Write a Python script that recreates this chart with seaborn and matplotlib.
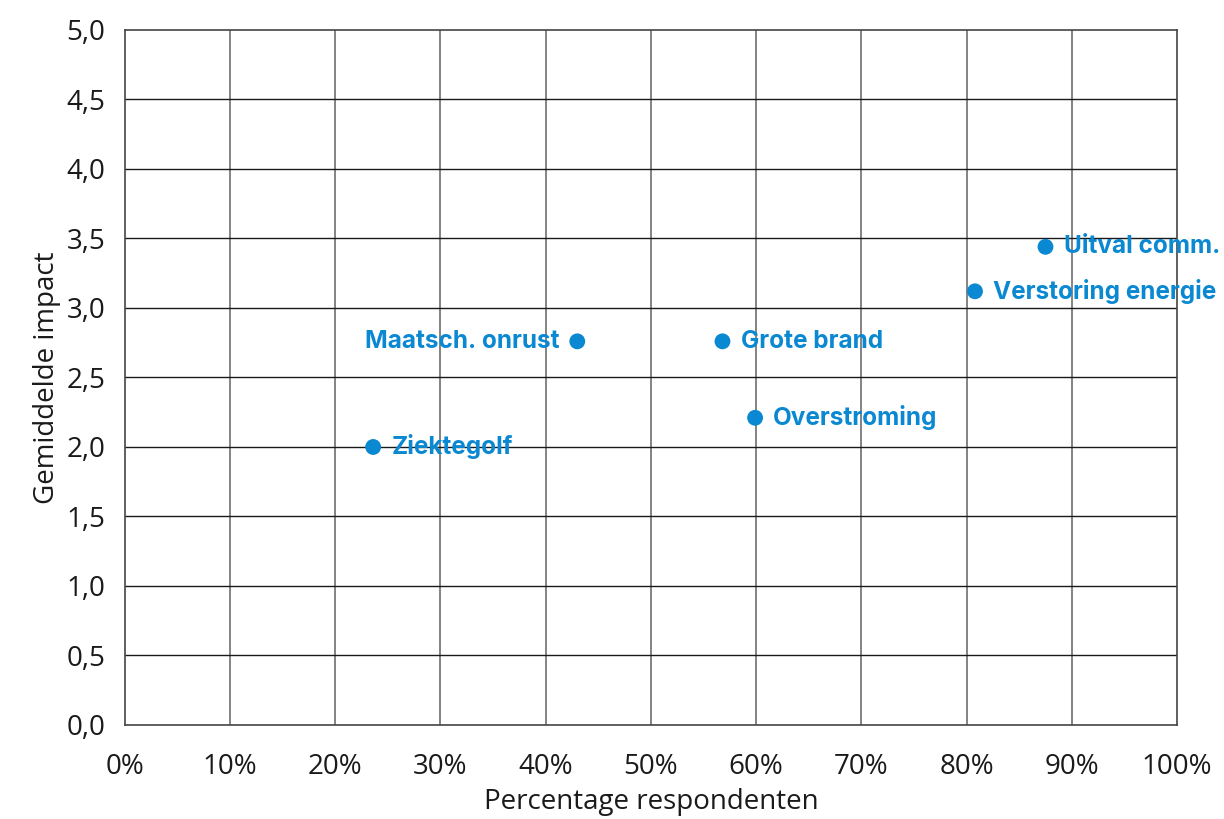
import numpy as np
import pandas as pd
import seaborn as sns
import matplotlib.pyplot as plt
from matplotlib.ticker import FuncFormatter, MultipleLocator

# data
labels = ["Ziektegolf", "Maatsch. onrust", "Grote brand", "Overstroming",
          "Verstoring energie", "Uitval comm."]
pct = [23.6, 43.0, 56.8, 59.9, 80.8, 87.5]
impact = [2.0, 2.76, 2.76, 2.21, 3.12, 3.44]
label_side = ["right", "left", "right", "right", "right", "right"]

blue = "#0a88d2"

sns.set_theme(style="white")
plt.rcParams['font.family'] = ['Open Sans', 'DejaVu Sans']

df = pd.DataFrame({"pct": pct, "impact": impact, "label": labels})

fig = plt.figure(figsize=(12.24, 8.19), dpi=100)
ax = fig.add_axes([0.102, 0.1148, 0.8596, 0.8486])

sns.scatterplot(data=df, x="pct", y="impact", color=blue, s=130,
                edgecolor="none", ax=ax, zorder=3)

for x, y, lab, side in zip(pct, impact, labels, label_side):
    off = 13 if side == "right" else -13
    ax.annotate(lab, (x, y), xytext=(off, 0), textcoords="offset points",
                ha="left" if side == "right" else "right", va="center",
                color=blue, fontsize=17.5, fontweight="bold",
                family=["Inter", "DejaVu Sans"],
                annotation_clip=False, zorder=4)

ax.set_xlim(0, 100)
ax.set_ylim(0, 5)
ax.xaxis.set_major_locator(MultipleLocator(10))
ax.yaxis.set_major_locator(MultipleLocator(0.5))
ax.xaxis.set_major_formatter(FuncFormatter(lambda v, p: f"{v:.0f}%"))
ax.yaxis.set_major_formatter(FuncFormatter(lambda v, p: f"{v:.1f}".replace(".", ",")))

ax.grid(False)
for v in np.arange(10, 100, 10):
    ax.axvline(v, color="#6e6e6e", lw=1.2, zorder=1)
for v in np.arange(0.5, 5.0, 0.5):
    ax.axhline(v, color="#1a1a1a", lw=1.0, zorder=1)

for sp in ax.spines.values():
    sp.set_color("#444444")
    sp.set_linewidth(1.2)

ax.tick_params(axis="both", labelsize=20, colors="#1a1a1a", length=0)
ax.tick_params(axis="x", pad=20)
ax.tick_params(axis="y", pad=14)
ax.set_xlabel("Percentage respondenten", fontsize=20, color="#1a1a1a", labelpad=5)
ax.set_ylabel("Gemiddelde impact", fontsize=20, color="#1a1a1a", labelpad=4)

fig.savefig("out.png", dpi=100)
